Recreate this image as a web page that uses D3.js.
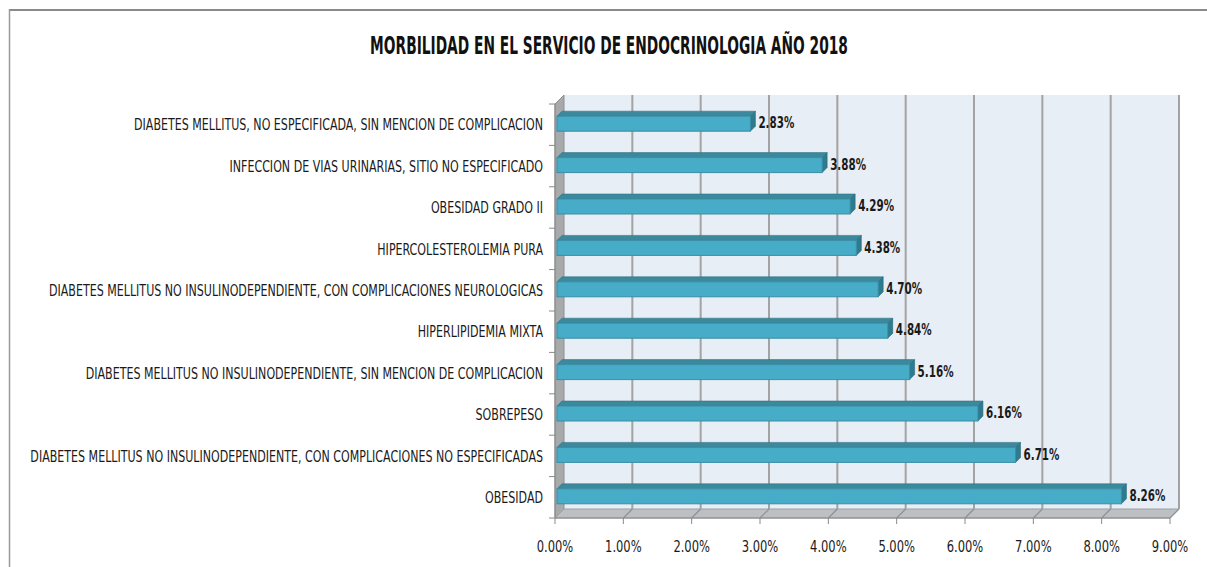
<!DOCTYPE html>
<html>
<head>
<meta charset="utf-8">
<script src="https://cdn.jsdelivr.net/npm/d3@7"></script>
<style>
  body { margin: 0; background: #fff; }
  svg { display: block; }
  text { font-family: "Liberation Sans Narrow", "DejaVu Sans Condensed", "Liberation Sans", sans-serif; fill: #1a1a1a; }
</style>
</head>
<body>
<div id="chart"></div>
<script>
// categories as they appear top -> bottom
const categories = [
    'DIABETES MELLITUS, NO ESPECIFICADA, SIN MENCION DE COMPLICACION',
    'INFECCION DE VIAS URINARIAS, SITIO NO ESPECIFICADO',
    'OBESIDAD GRADO II',
    'HIPERCOLESTEROLEMIA PURA',
    'DIABETES MELLITUS NO INSULINODEPENDIENTE, CON COMPLICACIONES NEUROLOGICAS',
    'HIPERLIPIDEMIA MIXTA',
    'DIABETES MELLITUS NO INSULINODEPENDIENTE, SIN MENCION DE COMPLICACION',
    'SOBREPESO',
    'DIABETES MELLITUS NO INSULINODEPENDIENTE, CON COMPLICACIONES NO ESPECIFICADAS',
    'OBESIDAD'
];
const values = [0.0283, 0.0388, 0.0429, 0.0438, 0.0470, 0.0484, 0.0516, 0.0616, 0.0671, 0.0826];
const xTicks = [0, 0.01, 0.02, 0.03, 0.04, 0.05, 0.06, 0.07, 0.08, 0.09];
const title = 'MORBILIDAD EN EL SERVICIO DE ENDOCRINOLOGIA AÑO 2018';

const width = 1207, height = 567;
const depth = 9;          // 3d wall depth (px, right & up)
const barZ0 = 2, barZ1 = 7; // bar sits between these depths

const svg = d3.select('#chart').append('svg')
    .attr('width', width)
    .attr('height', height);

// outer chart frame (only top/left visible)
svg.append('line').attr('x1', 9).attr('x2', width).attr('y1', 10).attr('y2', 10)
    .attr('stroke', '#8a8a8a').attr('stroke-width', 2);
svg.append('line').attr('x1', 9.5).attr('x2', 9.5).attr('y1', 9).attr('y2', height)
    .attr('stroke', '#9a9a9a').attr('stroke-width', 1.5);

// scales on the front plane
const x = d3.scaleLinear().domain([0, 0.09]).range([555, 1170]);
const y = d3.scaleBand().domain(categories).range([104, 518]);
const plotTop = y.range()[0], plotBottom = y.range()[1];
const x0 = x.range()[0], x1 = x.range()[1];

// back wall
svg.append('rect')
    .attr('x', x0 + depth).attr('y', plotTop - depth)
    .attr('width', x1 - x0).attr('height', plotBottom - plotTop)
    .attr('fill', '#e8eef5');

// left wall
svg.append('path')
    .attr('d', `M${x0},${plotTop} L${x0 + depth},${plotTop - depth} L${x0 + depth},${plotBottom - depth} L${x0},${plotBottom} Z`)
    .attr('fill', '#a7a9ab').attr('stroke', '#8d8f91').attr('stroke-width', 1);

// floor
svg.append('path')
    .attr('d', `M${x0},${plotBottom} L${x0 + depth},${plotBottom - depth} L${x1 + depth},${plotBottom - depth} L${x1},${plotBottom} Z`)
    .attr('fill', '#bcc0c3').attr('stroke', '#9c9fa2').attr('stroke-width', 1);

// gridlines: back wall vertical + floor diagonal
const grid = svg.append('g').attr('class', 'grid');
xTicks.slice(1).forEach(t => {
    grid.append('line')
        .attr('x1', x(t) + depth).attr('x2', x(t) + depth)
        .attr('y1', plotTop - depth).attr('y2', plotBottom - depth)
        .attr('stroke', '#a3a3a3').attr('stroke-width', 2);
    grid.append('line')
        .attr('x1', x(t) + depth).attr('x2', x(t))
        .attr('y1', plotBottom - depth).attr('y2', plotBottom)
        .attr('stroke', '#8e9194').attr('stroke-width', 1.2);
});

// x axis ticks + labels
const xAxis = svg.append('g');
xAxis.append('line').attr('x1', x0).attr('x2', x1).attr('y1', plotBottom).attr('y2', plotBottom)
    .attr('stroke', '#8a8a8a');
xTicks.forEach(t => {
    xAxis.append('line').attr('x1', x(t)).attr('x2', x(t)).attr('y1', plotBottom).attr('y2', plotBottom + 6)
        .attr('stroke', '#8a8a8a');
});
const xFmt = d3.format('.2%');
xAxis.selectAll('text.tick').data(xTicks).enter().append('text')
    .attr('class', 'tick')
    .attr('text-anchor', 'middle')
    .attr('dominant-baseline', 'central')
    .style('font-size', '16px')
    .attr('transform', d => `translate(${x(d)},${546}) scale(0.8,1)`)
    .text(d => xFmt(d));

// y axis ticks
svg.append('line').attr('x1', x0).attr('x2', x0).attr('y1', plotTop).attr('y2', plotBottom)
    .attr('stroke', '#8a8a8a');
d3.range(categories.length + 1).forEach(i => {
    const yy = plotTop + i * y.step();
    svg.append('line').attr('x1', x0 - 6).attr('x2', x0).attr('y1', yy).attr('y2', yy)
        .attr('stroke', '#8a8a8a');
});

// bars (3d: top face, end cap, front face)
const barH = 15;
const bars = svg.selectAll('.bar').data(categories).enter().append('g').attr('class', 'bar');
bars.each(function(c, i) {
    const g = d3.select(this);
    const fx0 = x(0) + barZ0, fx1 = x(values[i]) + barZ0;
    const cy = y(c) + y.bandwidth() / 2 - barZ0 + 1;
    const fy0 = cy - barH / 2, fy1 = cy + barH / 2;
    const d = barZ1 - barZ0;
    // top face
    g.append('path')
        .attr('d', `M${fx0},${fy0} L${fx0 + d},${fy0 - d} L${fx1 + d},${fy0 - d} L${fx1},${fy0} Z`)
        .attr('fill', '#3c889c').attr('stroke', '#2f7587').attr('stroke-width', 0.6);
    // end cap
    g.append('path')
        .attr('d', `M${fx1},${fy0} L${fx1 + d},${fy0 - d} L${fx1 + d},${fy1 - d} L${fx1},${fy1} Z`)
        .attr('fill', '#2e7b8e').attr('stroke', '#276a7b').attr('stroke-width', 0.6);
    // front face
    g.append('rect')
        .attr('x', fx0).attr('y', fy0)
        .attr('width', fx1 - fx0).attr('height', barH)
        .attr('fill', '#47acc7').attr('stroke', '#3a8ea5').attr('stroke-width', 1);
    // value label
    g.append('text')
        .attr('text-anchor', 'start')
        .attr('dominant-baseline', 'central')
        .style('font-size', '16px').style('font-weight', 'bold')
        .attr('transform', `translate(${fx1 + d + 3},${cy - 1}) scale(0.72,1)`)
        .text(xFmt(values[i]));
});

// category labels, squeezed to the width of the source chart
const labels = svg.selectAll('text.cat').data(categories).enter().append('text')
    .attr('class', 'cat')
    .attr('text-anchor', 'end')
    .attr('dominant-baseline', 'central')
    .style('font-size', '16px')
    .text(d => d);
let longest = 0;
labels.each(function() { longest = Math.max(longest, this.getComputedTextLength()); });
const kLab = 513 / longest;
labels.attr('transform', d => `translate(543,${y(d) + y.bandwidth() / 2}) scale(${kLab},1)`);

// title
const titleText = svg.append('text')
    .attr('text-anchor', 'middle')
    .attr('dominant-baseline', 'central')
    .style('font-size', '24px').style('font-weight', 'bold')
    .style('fill', '#111')
    .text(title);
const kTitle = 478 / titleText.node().getComputedTextLength();
titleText.attr('transform', `translate(609,46) scale(${kTitle},1)`);
</script>
</body>
</html>
